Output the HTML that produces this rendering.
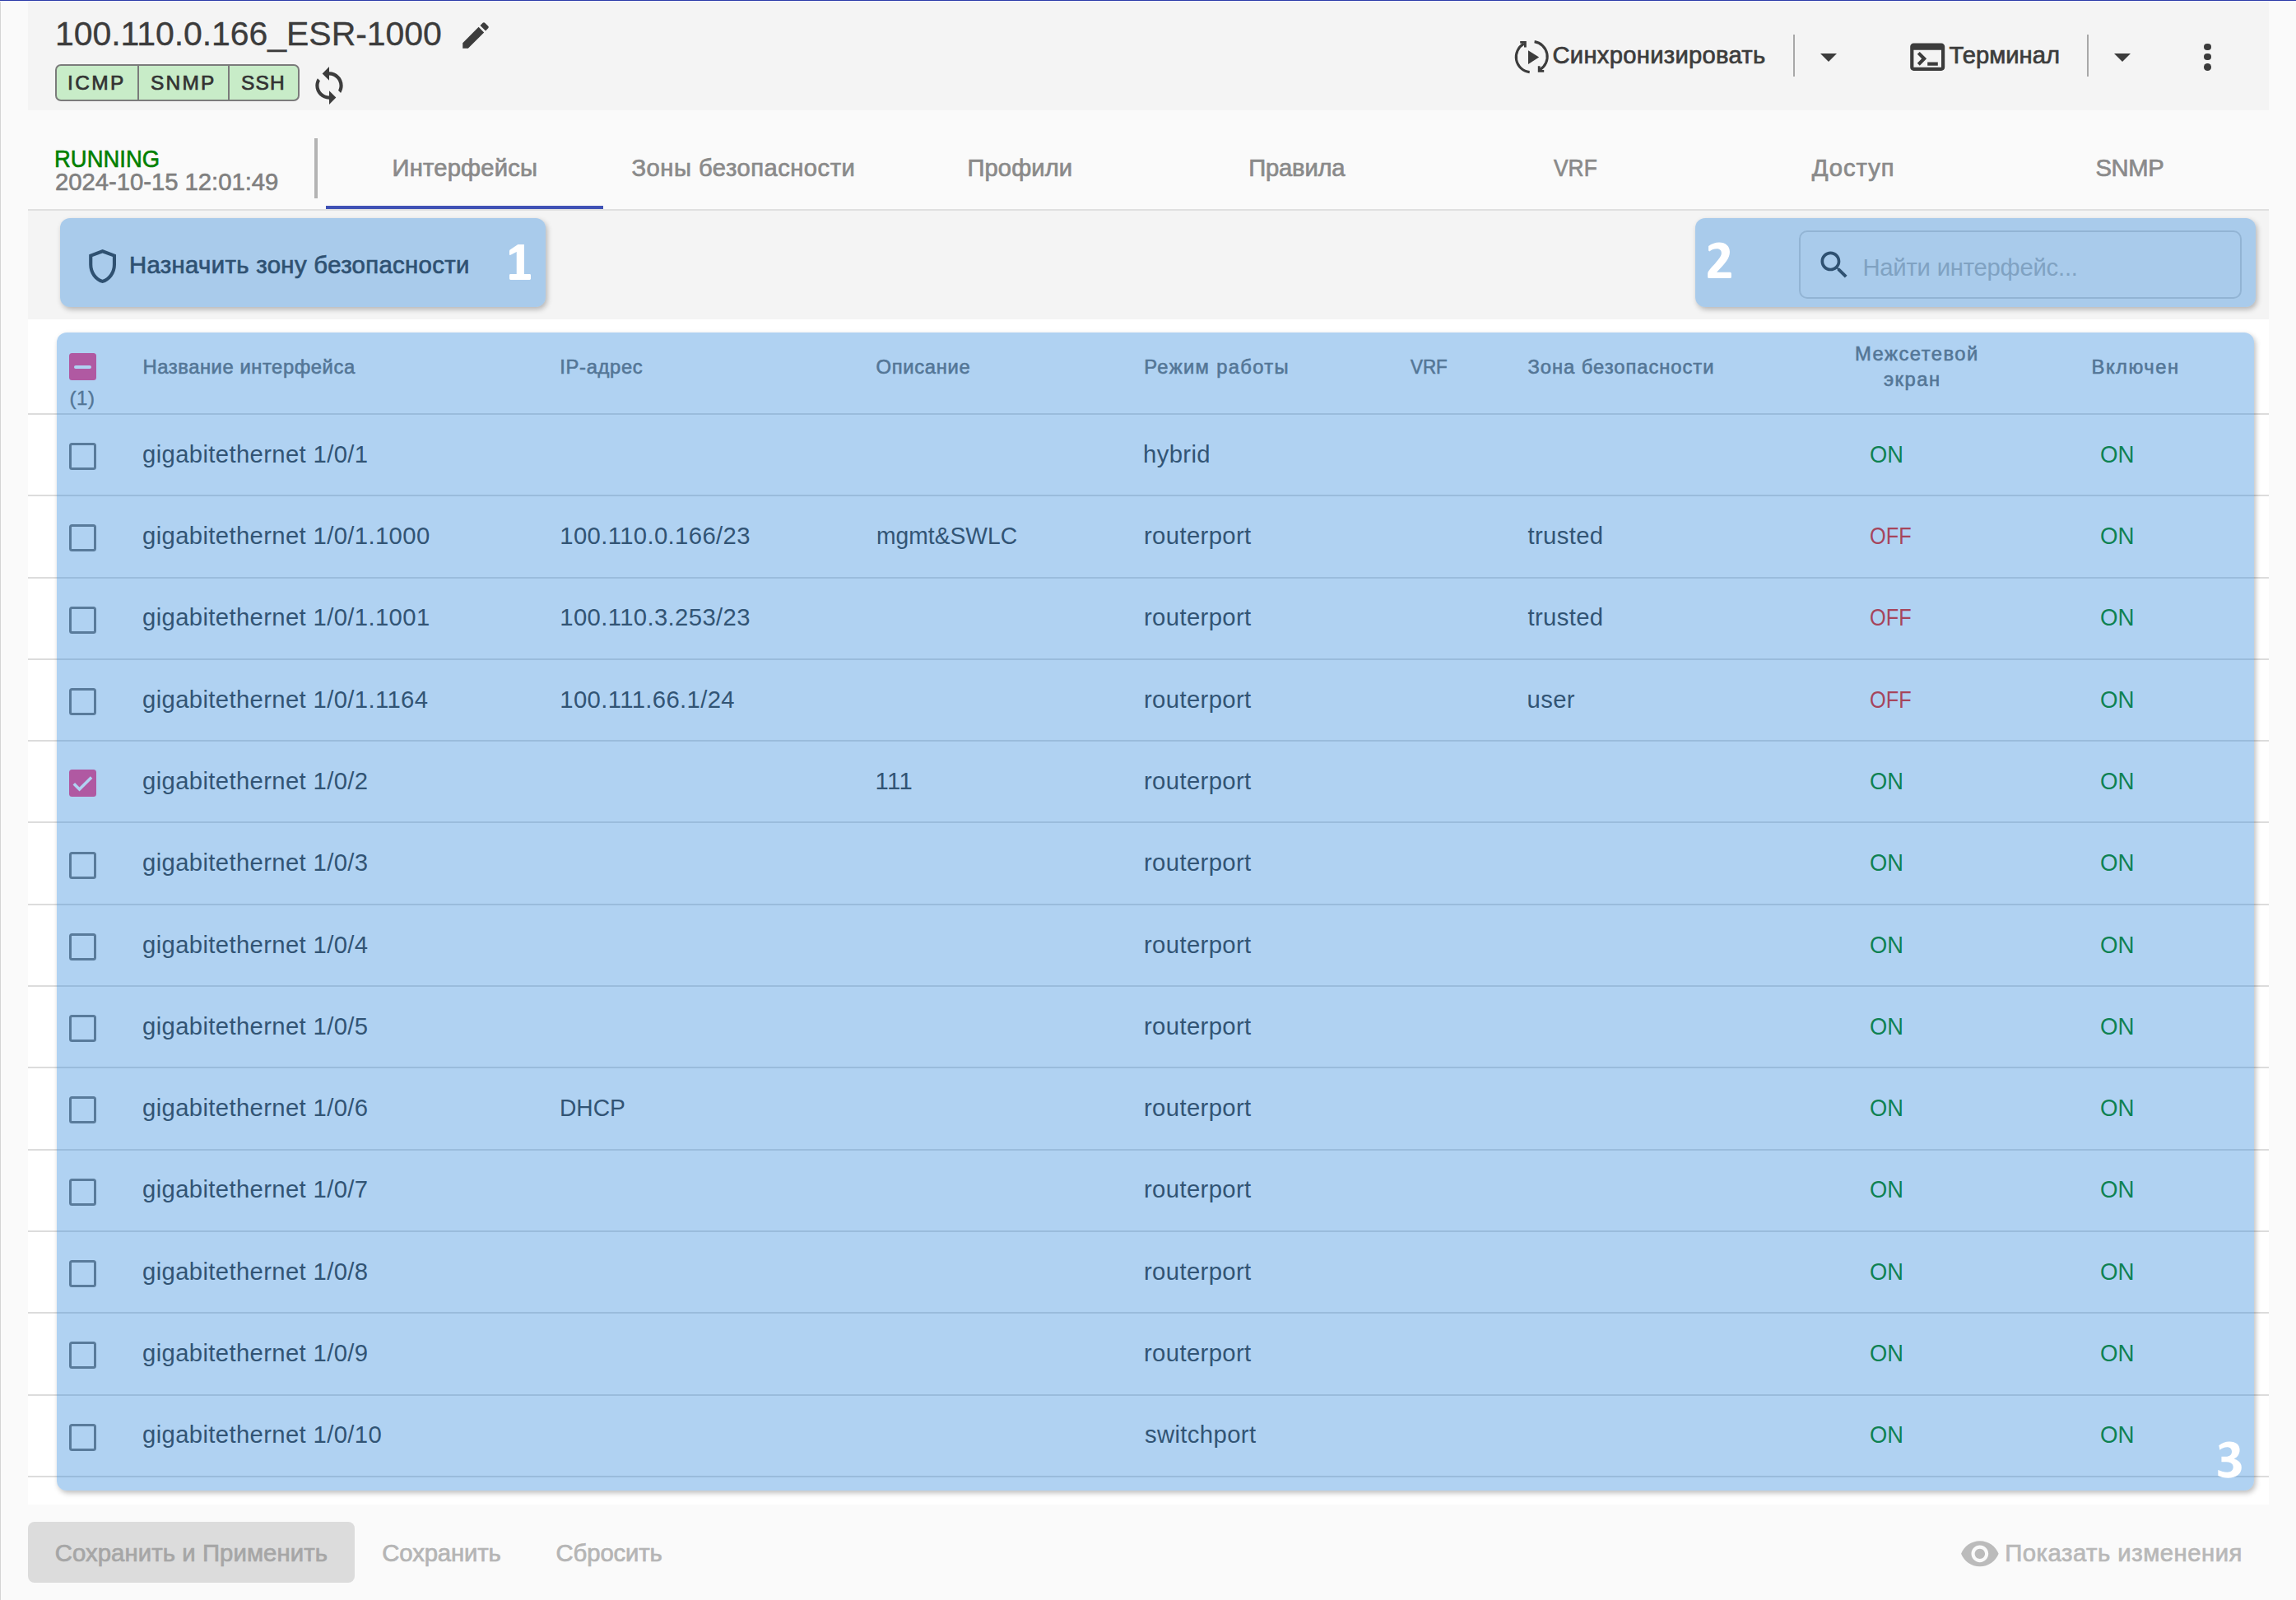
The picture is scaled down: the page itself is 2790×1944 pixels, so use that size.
<!DOCTYPE html>
<html><head><meta charset="utf-8"><title>ESR-1000</title>
<style>
html,body{margin:0;padding:0;}
body{width:2790px;height:1944px;position:relative;overflow:hidden;background:#fafafa;font-family:"Liberation Sans", sans-serif;}
.t{position:absolute;white-space:pre;font-family:"Liberation Sans", sans-serif;}
svg{display:block}
</style></head><body>
<div style="position:absolute;left:0px;top:0px;width:2790px;height:1944px;background:#fafafa"></div>
<div style="position:absolute;left:0px;top:0px;width:2790px;height:1px;background:#2b3aa8"></div>
<div style="position:absolute;left:0px;top:1px;width:2790px;height:1px;background:#ffffff"></div>
<div style="position:absolute;left:0px;top:2px;width:1px;height:1942px;background:#d4d4d4"></div>
<div style="position:absolute;left:34px;top:2px;width:2723px;height:132px;background:#f4f4f4"></div>
<div style="position:absolute;left:34px;top:254px;width:2723px;height:2px;background:#e0e0e0"></div>
<div style="position:absolute;left:34px;top:256px;width:2723px;height:132px;background:#f4f4f4"></div>
<div style="position:absolute;left:34px;top:388px;width:2723px;height:1440px;background:#ffffff"></div>
<div style="position:absolute;left:67px;top:78px;width:297px;height:45px;background:#c8ecc8;border:2px solid #7b7b7b;border-radius:7px;box-sizing:border-box"></div>
<div style="position:absolute;left:167px;top:78px;width:2px;height:45px;background:#7b7b7b"></div>
<div style="position:absolute;left:277px;top:78px;width:2px;height:45px;background:#7b7b7b"></div>
<div style="position:absolute;left:2179px;top:42px;width:2px;height:51px;background:#a8a8a8"></div>
<div style="position:absolute;left:2536px;top:42px;width:2px;height:51px;background:#a8a8a8"></div>
<div style="position:absolute;left:382px;top:168px;width:4px;height:73px;background:#b3b3b3"></div>
<div style="position:absolute;left:395.5px;top:250px;width:337.5px;height:4px;background:#3f51b5"></div>
<div style="position:absolute;left:2186.4px;top:280.4px;width:537.4000000000001px;height:83.0px;border:2px solid #d0d0d0;border-radius:10px;box-sizing:border-box"></div>
<div style="position:absolute;left:34px;top:502px;width:2723px;height:2px;background:#dcdcdc"></div>
<div style="position:absolute;left:34px;top:601px;width:2723px;height:2px;background:#dcdcdc"></div>
<div style="position:absolute;left:34px;top:701px;width:2723px;height:2px;background:#dcdcdc"></div>
<div style="position:absolute;left:34px;top:800px;width:2723px;height:2px;background:#dcdcdc"></div>
<div style="position:absolute;left:34px;top:899px;width:2723px;height:2px;background:#dcdcdc"></div>
<div style="position:absolute;left:34px;top:998px;width:2723px;height:2px;background:#dcdcdc"></div>
<div style="position:absolute;left:34px;top:1098px;width:2723px;height:2px;background:#dcdcdc"></div>
<div style="position:absolute;left:34px;top:1197px;width:2723px;height:2px;background:#dcdcdc"></div>
<div style="position:absolute;left:34px;top:1296px;width:2723px;height:2px;background:#dcdcdc"></div>
<div style="position:absolute;left:34px;top:1396px;width:2723px;height:2px;background:#dcdcdc"></div>
<div style="position:absolute;left:34px;top:1495px;width:2723px;height:2px;background:#dcdcdc"></div>
<div style="position:absolute;left:34px;top:1594px;width:2723px;height:2px;background:#dcdcdc"></div>
<div style="position:absolute;left:34px;top:1694px;width:2723px;height:2px;background:#dcdcdc"></div>
<div style="position:absolute;left:34px;top:1793px;width:2723px;height:2px;background:#dcdcdc"></div>
<div style="position:absolute;left:34px;top:1849px;width:396.5px;height:74px;background:#dcdcdc;border-radius:8px"></div>
<svg style="position:absolute;left:557px;top:22.4px;" width="42" height="42" viewBox="0 0 24 24"><path fill="#3c3c3c" d="M3 17.25V21h3.75L17.81 9.94l-3.75-3.75L3 17.25zM20.71 7.04c.39-.39.39-1.02 0-1.41l-2.34-2.34c-.39-.39-1.02-.39-1.41 0l-1.83 1.83 3.75 3.75 1.83-1.83z"/></svg>
<svg style="position:absolute;left:374.6px;top:78.8px;" width="50" height="50" viewBox="0 0 24 24"><path fill="#3c3c3c" d="M12 4V1L8 5l4 4V6c3.31 0 6 2.69 6 6 0 1.01-.25 1.97-.7 2.8l1.46 1.46C19.54 15.03 20 13.57 20 12c0-4.42-3.58-8-8-8zm0 14c-3.31 0-6-2.69-6-6 0-1.01.25-1.97.7-2.8L5.24 7.74C4.46 8.97 4 10.43 4 12c0 4.42 3.58 8 8 8v3l4-4-4-4v3z"/></svg>
<svg style="position:absolute;left:1836px;top:42px;" width="52" height="52" viewBox="0 0 52 52"><g fill="none" stroke="#3c3c3c" stroke-width="3.1"><path d="M15.8 11.2 A18.4 18.4 0 0 0 22.7 45.6"/><path d="M28.6 8.6 A18.4 18.4 0 0 1 35.2 42.6"/><polyline points="11.2,9.3 17.4,9.3 17.4,15.6" stroke-width="2.8"/><polyline points="34.2,38.2 34.2,44.4 40.2,44.4" stroke-width="2.8"/></g><polygon fill="#3c3c3c" points="21,19.2 34.2,27.5 21,35.9"/></svg>
<svg style="position:absolute;left:2212px;top:65px;" width="20" height="10" viewBox="0 0 20 10"><polygon fill="#3c3c3c" points="0,0 20,0 10,10"/></svg>
<svg style="position:absolute;left:2316.8px;top:43.6px;" width="50.4" height="50.4" viewBox="0 0 24 24"><path fill="#3c3c3c" d="M20 4H4c-1.11 0-2 .9-2 2v12c0 1.1.89 2 2 2h16c1.1 0 2-.9 2-2V6c0-1.1-.89-2-2-2zm0 14H4V8h16v10zm-2-1h-6v-2h6v2zM7.5 17l-1.41-1.41L8.67 13l-2.59-2.59L7.5 9l4 4-4 4z"/></svg>
<svg style="position:absolute;left:2569px;top:65px;" width="20" height="10" viewBox="0 0 20 10"><polygon fill="#3c3c3c" points="0,0 20,0 10,10"/></svg>
<div style="position:absolute;left:2678.0px;top:52.6px;width:8.6px;height:8.6px;border-radius:50%;background:#3c3c3c"></div>
<div style="position:absolute;left:2678.0px;top:64.9px;width:8.6px;height:8.6px;border-radius:50%;background:#3c3c3c"></div>
<div style="position:absolute;left:2678.0px;top:77.2px;width:8.6px;height:8.6px;border-radius:50%;background:#3c3c3c"></div>
<svg style="position:absolute;left:99.9px;top:299px;" width="49.2" height="49.2" viewBox="0 0 24 24"><path fill="#333333" d="M12 2 4 5v6.09c0 5.05 3.41 9.76 8 10.91 4.59-1.15 8-5.86 8-10.91V5l-8-3zm6 9.09c0 4-2.55 7.7-6 8.83-3.45-1.13-6-4.82-6-8.83v-4.7l6-2.25 6 2.25v4.7z"/></svg>
<svg style="position:absolute;left:2207px;top:299.5px;" width="44" height="44" viewBox="0 0 24 24"><path fill="#333333" d="M15.5 14h-.79l-.28-.27C15.41 12.59 16 11.11 16 9.5 16 5.91 13.09 3 9.5 3S3 5.91 3 9.5 5.91 16 9.5 16c1.61 0 3.09-.59 4.23-1.57l.27.28v.79l5 4.99L20.49 19l-4.99-5zm-6 0C7.01 14 5 11.99 5 9.5S7.01 5 9.5 5 14 7.01 14 9.5 11.99 14 9.5 14z"/></svg>
<div style="position:absolute;left:84px;top:429px;width:33px;height:33px;background:#ff4081;border-radius:3.5px"></div>
<div style="position:absolute;left:90px;top:444px;width:21px;height:4px;background:#ffffff;border-radius:2px"></div>
<div style="position:absolute;left:84px;top:538.0px;width:33px;height:33.0px;border:3px solid #757575;border-radius:3.5px;box-sizing:border-box"></div>
<div style="position:absolute;left:84px;top:637.3px;width:33px;height:33.0px;border:3px solid #757575;border-radius:3.5px;box-sizing:border-box"></div>
<div style="position:absolute;left:84px;top:736.6px;width:33px;height:33.0px;border:3px solid #757575;border-radius:3.5px;box-sizing:border-box"></div>
<div style="position:absolute;left:84px;top:835.9px;width:33px;height:33.0px;border:3px solid #757575;border-radius:3.5px;box-sizing:border-box"></div>
<div style="position:absolute;left:84px;top:934.7px;width:33px;height:33.0px;background:#ff4081;border-radius:3.5px"></div>
<svg style="position:absolute;left:84px;top:934.7px;" width="33" height="33" viewBox="0 0 24 24"><path fill="none" stroke="#ffffff" stroke-width="2.6" d="M4.2 12.6l4.9 4.9 10.6-10.6"/></svg>
<div style="position:absolute;left:84px;top:1034.5px;width:33px;height:33.0px;border:3px solid #757575;border-radius:3.5px;box-sizing:border-box"></div>
<div style="position:absolute;left:84px;top:1133.8px;width:33px;height:33.0px;border:3px solid #757575;border-radius:3.5px;box-sizing:border-box"></div>
<div style="position:absolute;left:84px;top:1233.1px;width:33px;height:33.0px;border:3px solid #757575;border-radius:3.5px;box-sizing:border-box"></div>
<div style="position:absolute;left:84px;top:1332.4px;width:33px;height:33.0px;border:3px solid #757575;border-radius:3.5px;box-sizing:border-box"></div>
<div style="position:absolute;left:84px;top:1431.6999999999998px;width:33px;height:33.0px;border:3px solid #757575;border-radius:3.5px;box-sizing:border-box"></div>
<div style="position:absolute;left:84px;top:1531.0px;width:33px;height:33.0px;border:3px solid #757575;border-radius:3.5px;box-sizing:border-box"></div>
<div style="position:absolute;left:84px;top:1630.3px;width:33px;height:33.0px;border:3px solid #757575;border-radius:3.5px;box-sizing:border-box"></div>
<div style="position:absolute;left:84px;top:1729.6px;width:33px;height:33.0px;border:3px solid #757575;border-radius:3.5px;box-sizing:border-box"></div>
<svg style="position:absolute;left:2380.6px;top:1863.4px;" width="49.7" height="49.7" viewBox="0 0 24 24"><path fill="#bbbbbb" d="M12 4.5C7 4.5 2.73 7.61 1 12c1.73 4.39 6 7.5 11 7.5s9.27-3.11 11-7.5c-1.73-4.39-6-7.5-11-7.5zM12 17c-2.76 0-5-2.24-5-5s2.24-5 5-5 5 2.24 5 5-2.24 5-5 5zm0-8c-1.66 0-3 1.34-3 3s1.34 3 3 3 3-1.34 3-3-1.34-3-3-3z"/></svg>
<div class="t" style="left:67.00px;top:21.29px;font-size:41px;line-height:41px;color:#3c3c3c;letter-spacing:-0.063px;-webkit-text-stroke:0.35px #3c3c3c;">100.110.0.166_ESR-1000</div>
<div class="t" style="left:82.00px;top:88.76px;font-size:24.5px;line-height:24.5px;color:#333333;letter-spacing:2.364px;-webkit-text-stroke:0.7px #333333;">ICMP</div>
<div class="t" style="left:183.00px;top:88.76px;font-size:24.5px;line-height:24.5px;color:#333333;letter-spacing:2.186px;-webkit-text-stroke:0.7px #333333;">SNMP</div>
<div class="t" style="left:293.00px;top:88.76px;font-size:24.5px;line-height:24.5px;color:#333333;letter-spacing:1.159px;-webkit-text-stroke:0.7px #333333;">SSH</div>
<div class="t" style="left:1886.50px;top:53.28px;font-size:29.2px;line-height:29.2px;color:#3c3c3c;letter-spacing:0.282px;-webkit-text-stroke:0.7px #3c3c3c;">Синхронизировать</div>
<div class="t" style="left:2368.50px;top:53.28px;font-size:29.2px;line-height:29.2px;color:#3c3c3c;letter-spacing:0.018px;-webkit-text-stroke:0.7px #3c3c3c;">Терминал</div>
<div class="t" style="left:66.13px;top:177.50px;font-size:29.3px;line-height:29.3px;color:#008000;-webkit-text-stroke:0.6px #008000;transform:scaleX(0.9366);transform-origin:0 0;">RUNNING</div>
<div class="t" style="left:67.00px;top:205.50px;font-size:29.3px;line-height:29.3px;color:#808080;letter-spacing:-0.041px;-webkit-text-stroke:0.6px #808080;">2024-10-15 12:01:49</div>
<div class="t" style="left:476.60px;top:190.08px;font-size:29.2px;line-height:29.2px;color:#8a8a8a;letter-spacing:0.184px;-webkit-text-stroke:0.7px #8a8a8a;">Интерфейсы</div>
<div class="t" style="left:767.50px;top:190.08px;font-size:29.2px;line-height:29.2px;color:#8a8a8a;letter-spacing:0.482px;-webkit-text-stroke:0.7px #8a8a8a;">Зоны безопасности</div>
<div class="t" style="left:1175.40px;top:190.08px;font-size:29.2px;line-height:29.2px;color:#8a8a8a;letter-spacing:0.101px;-webkit-text-stroke:0.7px #8a8a8a;">Профили</div>
<div class="t" style="left:1517.30px;top:190.08px;font-size:29.2px;line-height:29.2px;color:#8a8a8a;letter-spacing:-0.214px;-webkit-text-stroke:0.7px #8a8a8a;">Правила</div>
<div class="t" style="left:1887.90px;top:190.08px;font-size:29.2px;line-height:29.2px;color:#8a8a8a;-webkit-text-stroke:0.7px #8a8a8a;transform:scaleX(0.9036);transform-origin:0 0;">VRF</div>
<div class="t" style="left:2201.80px;top:190.08px;font-size:29.2px;line-height:29.2px;color:#8a8a8a;letter-spacing:0.958px;-webkit-text-stroke:0.7px #8a8a8a;">Доступ</div>
<div class="t" style="left:2546.50px;top:190.08px;font-size:29.2px;line-height:29.2px;color:#8a8a8a;letter-spacing:-0.353px;-webkit-text-stroke:0.7px #8a8a8a;">SNMP</div>
<div class="t" style="left:157.00px;top:307.40px;font-size:29.3px;line-height:29.3px;color:#333333;letter-spacing:0.345px;-webkit-text-stroke:0.7px #333333;">Назначить зону безопасности</div>
<div class="t" style="left:2263.40px;top:309.50px;font-size:29.3px;line-height:29.3px;color:#b3b3b3;letter-spacing:-0.250px;">Найти интерфейс...</div>
<div class="t" style="left:84.50px;top:471.68px;font-size:24px;line-height:24px;color:#6e6e6e;letter-spacing:0.580px;-webkit-text-stroke:0.4px #6e6e6e;">(1)</div>
<div class="t" style="left:173.50px;top:434.05px;font-size:23.8px;line-height:23.8px;color:#6e6e6e;letter-spacing:0.550px;-webkit-text-stroke:0.6px #6e6e6e;">Название интерфейса</div>
<div class="t" style="left:680.30px;top:434.05px;font-size:23.8px;line-height:23.8px;color:#6e6e6e;letter-spacing:0.643px;-webkit-text-stroke:0.6px #6e6e6e;">IP-адрес</div>
<div class="t" style="left:1064.50px;top:434.05px;font-size:23.8px;line-height:23.8px;color:#6e6e6e;letter-spacing:0.678px;-webkit-text-stroke:0.6px #6e6e6e;">Описание</div>
<div class="t" style="left:1390.20px;top:434.05px;font-size:23.8px;line-height:23.8px;color:#6e6e6e;letter-spacing:1.328px;-webkit-text-stroke:0.6px #6e6e6e;">Режим работы</div>
<div class="t" style="left:1714.20px;top:434.05px;font-size:23.8px;line-height:23.8px;color:#6e6e6e;-webkit-text-stroke:0.6px #6e6e6e;transform:scaleX(0.9414);transform-origin:0 0;">VRF</div>
<div class="t" style="left:1856.50px;top:434.05px;font-size:23.8px;line-height:23.8px;color:#6e6e6e;letter-spacing:0.935px;-webkit-text-stroke:0.6px #6e6e6e;">Зона безопасности</div>
<div class="t" style="left:2254.00px;top:418.35px;font-size:23.8px;line-height:23.8px;color:#6e6e6e;letter-spacing:1.467px;-webkit-text-stroke:0.6px #6e6e6e;">Межсетевой</div>
<div class="t" style="left:2288.90px;top:449.35px;font-size:23.8px;line-height:23.8px;color:#6e6e6e;letter-spacing:1.494px;-webkit-text-stroke:0.6px #6e6e6e;">экран</div>
<div class="t" style="left:2541.50px;top:433.65px;font-size:23.8px;line-height:23.8px;color:#6e6e6e;letter-spacing:1.518px;-webkit-text-stroke:0.6px #6e6e6e;">Включен</div>
<div class="t" style="left:173.00px;top:536.70px;font-size:29.3px;line-height:29.3px;color:#383838;letter-spacing:0.350px;">gigabitethernet 1/0/1</div>
<div class="t" style="left:1389.00px;top:536.70px;font-size:29.3px;line-height:29.3px;color:#383838;letter-spacing:0.350px;">hybrid</div>
<div class="t" style="left:2271.57px;top:536.70px;font-size:29.3px;line-height:29.3px;color:#008000;transform:scaleX(0.9316);transform-origin:0 0;">ON</div>
<div class="t" style="left:2551.56px;top:536.70px;font-size:29.3px;line-height:29.3px;color:#008000;transform:scaleX(0.9439);transform-origin:0 0;">ON</div>
<div class="t" style="left:173.00px;top:636.00px;font-size:29.3px;line-height:29.3px;color:#383838;letter-spacing:0.350px;">gigabitethernet 1/0/1.1000</div>
<div class="t" style="left:680.30px;top:636.00px;font-size:29.3px;line-height:29.3px;color:#383838;letter-spacing:0.350px;">100.110.0.166/23</div>
<div class="t" style="left:1064.54px;top:636.00px;font-size:29.3px;line-height:29.3px;color:#383838;transform:scaleX(0.9644);transform-origin:0 0;">mgmt&amp;SWLC</div>
<div class="t" style="left:1390.00px;top:636.00px;font-size:29.3px;line-height:29.3px;color:#383838;letter-spacing:0.350px;">routerport</div>
<div class="t" style="left:1856.50px;top:636.00px;font-size:29.3px;line-height:29.3px;color:#383838;letter-spacing:0.350px;">trusted</div>
<div class="t" style="left:2271.64px;top:636.00px;font-size:29.3px;line-height:29.3px;color:#f02010;transform:scaleX(0.8644);transform-origin:0 0;">OFF</div>
<div class="t" style="left:2551.56px;top:636.00px;font-size:29.3px;line-height:29.3px;color:#008000;transform:scaleX(0.9439);transform-origin:0 0;">ON</div>
<div class="t" style="left:173.00px;top:735.30px;font-size:29.3px;line-height:29.3px;color:#383838;letter-spacing:0.350px;">gigabitethernet 1/0/1.1001</div>
<div class="t" style="left:680.30px;top:735.30px;font-size:29.3px;line-height:29.3px;color:#383838;letter-spacing:0.350px;">100.110.3.253/23</div>
<div class="t" style="left:1390.00px;top:735.30px;font-size:29.3px;line-height:29.3px;color:#383838;letter-spacing:0.350px;">routerport</div>
<div class="t" style="left:1856.50px;top:735.30px;font-size:29.3px;line-height:29.3px;color:#383838;letter-spacing:0.350px;">trusted</div>
<div class="t" style="left:2271.64px;top:735.30px;font-size:29.3px;line-height:29.3px;color:#f02010;transform:scaleX(0.8644);transform-origin:0 0;">OFF</div>
<div class="t" style="left:2551.56px;top:735.30px;font-size:29.3px;line-height:29.3px;color:#008000;transform:scaleX(0.9439);transform-origin:0 0;">ON</div>
<div class="t" style="left:173.00px;top:834.60px;font-size:29.3px;line-height:29.3px;color:#383838;letter-spacing:0.350px;">gigabitethernet 1/0/1.1164</div>
<div class="t" style="left:680.30px;top:834.60px;font-size:29.3px;line-height:29.3px;color:#383838;letter-spacing:0.350px;">100.111.66.1/24</div>
<div class="t" style="left:1390.00px;top:834.60px;font-size:29.3px;line-height:29.3px;color:#383838;letter-spacing:0.350px;">routerport</div>
<div class="t" style="left:1855.50px;top:834.60px;font-size:29.3px;line-height:29.3px;color:#383838;letter-spacing:0.350px;">user</div>
<div class="t" style="left:2271.64px;top:834.60px;font-size:29.3px;line-height:29.3px;color:#f02010;transform:scaleX(0.8644);transform-origin:0 0;">OFF</div>
<div class="t" style="left:2551.56px;top:834.60px;font-size:29.3px;line-height:29.3px;color:#008000;transform:scaleX(0.9439);transform-origin:0 0;">ON</div>
<div class="t" style="left:173.00px;top:933.90px;font-size:29.3px;line-height:29.3px;color:#383838;letter-spacing:0.350px;">gigabitethernet 1/0/2</div>
<div class="t" style="left:1063.50px;top:933.90px;font-size:29.3px;line-height:29.3px;color:#383838;letter-spacing:0.350px;">111</div>
<div class="t" style="left:1390.00px;top:933.90px;font-size:29.3px;line-height:29.3px;color:#383838;letter-spacing:0.350px;">routerport</div>
<div class="t" style="left:2271.57px;top:933.90px;font-size:29.3px;line-height:29.3px;color:#008000;transform:scaleX(0.9316);transform-origin:0 0;">ON</div>
<div class="t" style="left:2551.56px;top:933.90px;font-size:29.3px;line-height:29.3px;color:#008000;transform:scaleX(0.9439);transform-origin:0 0;">ON</div>
<div class="t" style="left:173.00px;top:1033.20px;font-size:29.3px;line-height:29.3px;color:#383838;letter-spacing:0.350px;">gigabitethernet 1/0/3</div>
<div class="t" style="left:1390.00px;top:1033.20px;font-size:29.3px;line-height:29.3px;color:#383838;letter-spacing:0.350px;">routerport</div>
<div class="t" style="left:2271.57px;top:1033.20px;font-size:29.3px;line-height:29.3px;color:#008000;transform:scaleX(0.9316);transform-origin:0 0;">ON</div>
<div class="t" style="left:2551.56px;top:1033.20px;font-size:29.3px;line-height:29.3px;color:#008000;transform:scaleX(0.9439);transform-origin:0 0;">ON</div>
<div class="t" style="left:173.00px;top:1132.50px;font-size:29.3px;line-height:29.3px;color:#383838;letter-spacing:0.350px;">gigabitethernet 1/0/4</div>
<div class="t" style="left:1390.00px;top:1132.50px;font-size:29.3px;line-height:29.3px;color:#383838;letter-spacing:0.350px;">routerport</div>
<div class="t" style="left:2271.57px;top:1132.50px;font-size:29.3px;line-height:29.3px;color:#008000;transform:scaleX(0.9316);transform-origin:0 0;">ON</div>
<div class="t" style="left:2551.56px;top:1132.50px;font-size:29.3px;line-height:29.3px;color:#008000;transform:scaleX(0.9439);transform-origin:0 0;">ON</div>
<div class="t" style="left:173.00px;top:1231.80px;font-size:29.3px;line-height:29.3px;color:#383838;letter-spacing:0.350px;">gigabitethernet 1/0/5</div>
<div class="t" style="left:1390.00px;top:1231.80px;font-size:29.3px;line-height:29.3px;color:#383838;letter-spacing:0.350px;">routerport</div>
<div class="t" style="left:2271.57px;top:1231.80px;font-size:29.3px;line-height:29.3px;color:#008000;transform:scaleX(0.9316);transform-origin:0 0;">ON</div>
<div class="t" style="left:2551.56px;top:1231.80px;font-size:29.3px;line-height:29.3px;color:#008000;transform:scaleX(0.9439);transform-origin:0 0;">ON</div>
<div class="t" style="left:173.00px;top:1331.10px;font-size:29.3px;line-height:29.3px;color:#383838;letter-spacing:0.350px;">gigabitethernet 1/0/6</div>
<div class="t" style="left:680.37px;top:1331.10px;font-size:29.3px;line-height:29.3px;color:#383838;transform:scaleX(0.9626);transform-origin:0 0;">DHCP</div>
<div class="t" style="left:1390.00px;top:1331.10px;font-size:29.3px;line-height:29.3px;color:#383838;letter-spacing:0.350px;">routerport</div>
<div class="t" style="left:2271.57px;top:1331.10px;font-size:29.3px;line-height:29.3px;color:#008000;transform:scaleX(0.9316);transform-origin:0 0;">ON</div>
<div class="t" style="left:2551.56px;top:1331.10px;font-size:29.3px;line-height:29.3px;color:#008000;transform:scaleX(0.9439);transform-origin:0 0;">ON</div>
<div class="t" style="left:173.00px;top:1430.40px;font-size:29.3px;line-height:29.3px;color:#383838;letter-spacing:0.350px;">gigabitethernet 1/0/7</div>
<div class="t" style="left:1390.00px;top:1430.40px;font-size:29.3px;line-height:29.3px;color:#383838;letter-spacing:0.350px;">routerport</div>
<div class="t" style="left:2271.57px;top:1430.40px;font-size:29.3px;line-height:29.3px;color:#008000;transform:scaleX(0.9316);transform-origin:0 0;">ON</div>
<div class="t" style="left:2551.56px;top:1430.40px;font-size:29.3px;line-height:29.3px;color:#008000;transform:scaleX(0.9439);transform-origin:0 0;">ON</div>
<div class="t" style="left:173.00px;top:1529.70px;font-size:29.3px;line-height:29.3px;color:#383838;letter-spacing:0.350px;">gigabitethernet 1/0/8</div>
<div class="t" style="left:1390.00px;top:1529.70px;font-size:29.3px;line-height:29.3px;color:#383838;letter-spacing:0.350px;">routerport</div>
<div class="t" style="left:2271.57px;top:1529.70px;font-size:29.3px;line-height:29.3px;color:#008000;transform:scaleX(0.9316);transform-origin:0 0;">ON</div>
<div class="t" style="left:2551.56px;top:1529.70px;font-size:29.3px;line-height:29.3px;color:#008000;transform:scaleX(0.9439);transform-origin:0 0;">ON</div>
<div class="t" style="left:173.00px;top:1629.00px;font-size:29.3px;line-height:29.3px;color:#383838;letter-spacing:0.350px;">gigabitethernet 1/0/9</div>
<div class="t" style="left:1390.00px;top:1629.00px;font-size:29.3px;line-height:29.3px;color:#383838;letter-spacing:0.350px;">routerport</div>
<div class="t" style="left:2271.57px;top:1629.00px;font-size:29.3px;line-height:29.3px;color:#008000;transform:scaleX(0.9316);transform-origin:0 0;">ON</div>
<div class="t" style="left:2551.56px;top:1629.00px;font-size:29.3px;line-height:29.3px;color:#008000;transform:scaleX(0.9439);transform-origin:0 0;">ON</div>
<div class="t" style="left:173.00px;top:1728.30px;font-size:29.3px;line-height:29.3px;color:#383838;letter-spacing:0.350px;">gigabitethernet 1/0/10</div>
<div class="t" style="left:1391.00px;top:1728.30px;font-size:29.3px;line-height:29.3px;color:#383838;letter-spacing:0.350px;">switchport</div>
<div class="t" style="left:2271.57px;top:1728.30px;font-size:29.3px;line-height:29.3px;color:#008000;transform:scaleX(0.9316);transform-origin:0 0;">ON</div>
<div class="t" style="left:2551.56px;top:1728.30px;font-size:29.3px;line-height:29.3px;color:#008000;transform:scaleX(0.9439);transform-origin:0 0;">ON</div>
<div class="t" style="left:66.70px;top:1871.70px;font-size:29.3px;line-height:29.3px;color:#a6a6a6;letter-spacing:0.083px;-webkit-text-stroke:0.7px #a6a6a6;">Сохранить и Применить</div>
<div class="t" style="left:464.30px;top:1871.70px;font-size:29.3px;line-height:29.3px;color:#b5b5b5;letter-spacing:-0.127px;-webkit-text-stroke:0.7px #b5b5b5;">Сохранить</div>
<div class="t" style="left:675.60px;top:1871.70px;font-size:29.3px;line-height:29.3px;color:#b5b5b5;letter-spacing:-0.137px;-webkit-text-stroke:0.7px #b5b5b5;">Сбросить</div>
<div class="t" style="left:2436.20px;top:1871.70px;font-size:29.3px;line-height:29.3px;color:#b8b8b8;letter-spacing:0.498px;-webkit-text-stroke:0.7px #b8b8b8;">Показать изменения</div>
<div style="position:absolute;left:73px;top:265px;width:590px;height:108px;background:rgba(42,134,220,0.37);border-radius:12px;box-shadow:2px 3px 6px rgba(0,0,0,0.26)"></div>
<div style="position:absolute;left:2060px;top:265px;width:681px;height:108px;background:rgba(42,134,220,0.37);border-radius:12px;box-shadow:2px 3px 6px rgba(0,0,0,0.26)"></div>
<div style="position:absolute;left:69px;top:404px;width:2670px;height:1406.5px;background:rgba(42,134,220,0.37);border-radius:12px;box-shadow:2px 3px 6px rgba(0,0,0,0.26)"></div>
<svg style="position:absolute;left:605px;top:285px;" width="60" height="65" viewBox="0 0 1477 1600"><path fill="#ffffff" d="M600 295 L785 295 L785 1180 L950 1180 Q985 1180 985 1215 L985 1320 Q985 1355 950 1355 L380 1355 Q345 1355 345 1320 L345 1215 Q345 1180 380 1180 L560 1180 L560 515 L380 610 Q345 625 345 585 L345 490 Q345 460 380 445 Z"/></svg>
<svg style="position:absolute;left:2065px;top:285px;" width="50" height="60" viewBox="0 0 1333 1600"><path fill="#ffffff" d="M295 370 C400 290 520 250 640 250 C850 250 985 370 985 560 C985 760 850 920 560 1220 L1000 1220 Q1035 1220 1035 1260 L1035 1370 Q1035 1410 1000 1410 L310 1410 Q270 1410 270 1370 L270 1260 Q270 1200 320 1150 C640 800 715 700 715 600 C715 500 650 460 560 460 C470 460 400 490 330 545 L295 520 Z"/></svg>
<svg style="position:absolute;left:2685px;top:1745px;" width="50" height="60" viewBox="0 0 1333 1600"><path fill="#ffffff" d="M300 300 C400 220 520 175 640 175 C860 175 975 290 975 440 C975 600 880 690 790 735 C950 780 1035 880 1035 1010 C1035 1220 860 1350 600 1350 C470 1350 360 1320 275 1280 L275 1095 C370 1140 470 1165 570 1165 C700 1165 765 1100 765 1000 C765 890 680 830 540 830 L385 830 L385 660 L520 660 C660 660 720 590 720 500 C720 410 660 355 570 355 C480 355 400 390 330 445 Z"/></svg>
</body></html>
